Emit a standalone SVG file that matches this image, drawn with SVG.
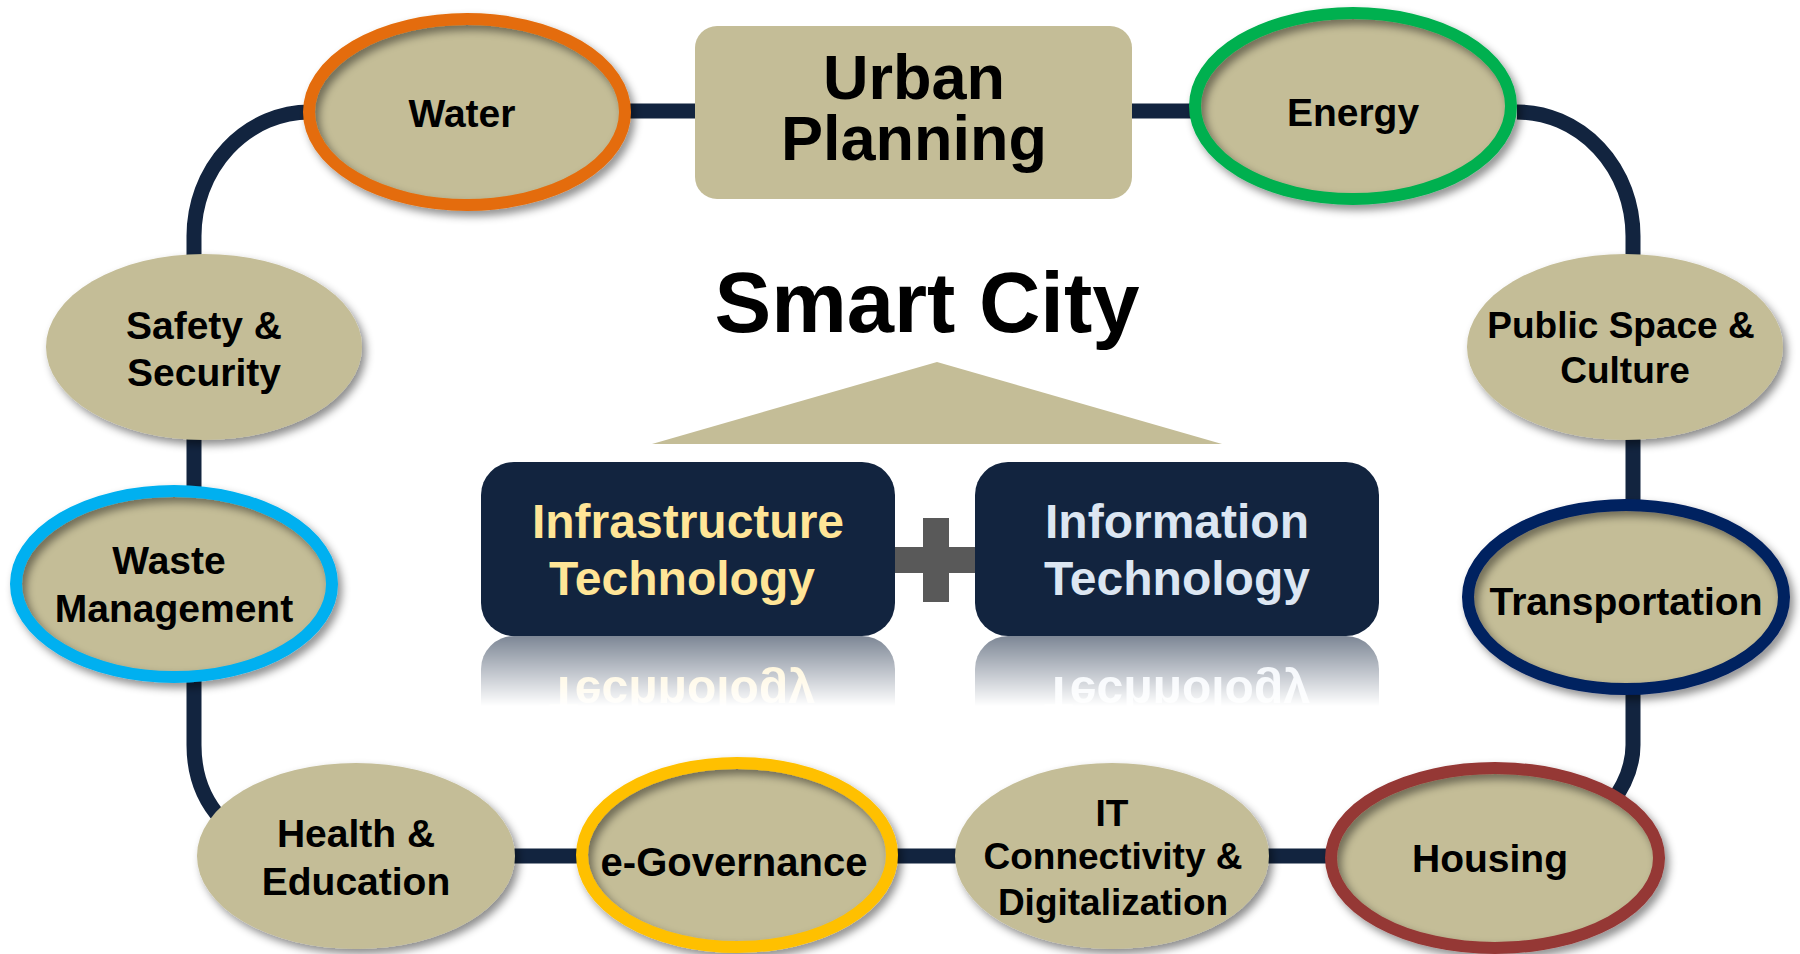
<svg xmlns="http://www.w3.org/2000/svg" width="1800" height="954" viewBox="0 0 1800 954">
<defs>
<style>
.tan{fill:#C4BD97}
.lbl{font-family:"Liberation Sans",Arial,Helvetica,sans-serif;font-weight:bold;fill:#000;text-anchor:middle}
.conn{stroke:#12243F;stroke-width:15;fill:none}
.ring{fill:none;stroke-width:12;filter:url(#sh)}
.plain{fill:#C4BD97;filter:url(#sh)}
.box{fill:#12243F}
</style>
<filter id="sh" x="-20%" y="-25%" width="140%" height="160%">
<feDropShadow dx="4" dy="5" stdDeviation="4" flood-color="#000" flood-opacity="0.45"/>
</filter>
<linearGradient id="rg" x1="0" y1="636" x2="0" y2="706" gradientUnits="userSpaceOnUse">
<stop offset="0" stop-color="#fff" stop-opacity="0.55"/>
<stop offset="1" stop-color="#fff" stop-opacity="0"/>
</linearGradient>
<mask id="rm" maskUnits="userSpaceOnUse" x="0" y="630" width="1800" height="100">
<rect x="0" y="636" width="1800" height="72" fill="url(#rg)"/>
</mask>
</defs>
<rect width="1800" height="954" fill="#fff"/>

<g id="connectors">
<path class="conn" d="M 625 111 H 700"/>
<path class="conn" d="M 1128 111 H 1195"/>
<path class="conn" d="M 310 112 A 116 124 0 0 0 194 236 V 265"/>
<path class="conn" d="M 194 430 V 495"/>
<path class="conn" d="M 194 675 V 745 Q 194 790 222 820"/>
<path class="conn" d="M 505 856 H 590"/>
<path class="conn" d="M 890 856 H 965"/>
<path class="conn" d="M 1260 856 H 1335"/>
<path class="conn" d="M 1610 805 Q 1633 775 1633 745 V 690"/>
<path class="conn" d="M 1633 430 V 505"/>
<path class="conn" d="M 1633 265 V 236 A 116 124 0 0 0 1517 112"/>
</g>

<g id="urban-planning">
<rect class="tan" x="695" y="26" width="437" height="173" rx="22"/>
<text class="lbl" x="914" y="99" font-size="63">Urban</text>
<text class="lbl" x="914" y="160" font-size="63">Planning</text>
</g>

<g id="water">
<ellipse class="tan" cx="467" cy="112" rx="158" ry="93"/>
<ellipse class="ring" cx="467" cy="112" rx="158" ry="93" stroke="#E46C0A"/>
<text class="lbl" x="462" y="127" font-size="39">Water</text>
</g>

<g id="energy">
<ellipse class="tan" cx="1353" cy="106" rx="158" ry="93"/>
<ellipse class="ring" cx="1353" cy="106" rx="158" ry="93" stroke="#00B050"/>
<text class="lbl" x="1353" y="126" font-size="39">Energy</text>
</g>

<g id="safety-security">
<ellipse class="plain" cx="204" cy="347" rx="158" ry="93"/>
<text class="lbl" x="204" y="339" font-size="39">Safety &amp;</text>
<text class="lbl" x="204" y="386" font-size="39">Security</text>
</g>

<g id="public-space-culture">
<ellipse class="plain" cx="1625" cy="347" rx="158" ry="93"/>
<text class="lbl" x="1621" y="338" font-size="37">Public Space &amp;</text>
<text class="lbl" x="1625" y="383" font-size="37">Culture</text>
</g>

<g id="waste-management">
<ellipse class="tan" cx="174" cy="584" rx="158" ry="93"/>
<ellipse class="ring" cx="174" cy="584" rx="158" ry="93" stroke="#00B0F0"/>
<text class="lbl" x="169" y="574" font-size="39">Waste</text>
<text class="lbl" x="174" y="622" font-size="39">Management</text>
</g>

<g id="transportation">
<ellipse class="tan" cx="1626" cy="597" rx="158" ry="92"/>
<ellipse class="ring" cx="1626" cy="597" rx="158" ry="92" stroke="#002060"/>
<text class="lbl" x="1626" y="615" font-size="39">Transportation</text>
</g>

<g id="health-education">
<ellipse class="plain" cx="356" cy="856" rx="159" ry="93"/>
<text class="lbl" x="356" y="847" font-size="39">Health &amp;</text>
<text class="lbl" x="356" y="895" font-size="39">Education</text>
</g>

<g id="e-governance">
<ellipse class="tan" cx="737" cy="855" rx="155" ry="92"/>
<ellipse class="ring" cx="737" cy="855" rx="155" ry="92" stroke="#FFC000"/>
<text class="lbl" x="734" y="876" font-size="40">e-Governance</text>
</g>

<g id="it-connectivity">
<ellipse class="plain" cx="1112" cy="856" rx="157" ry="93"/>
<text class="lbl" x="1112" y="826" font-size="37">IT</text>
<text class="lbl" x="1113" y="869" font-size="37">Connectivity &amp;</text>
<text class="lbl" x="1113" y="915" font-size="37">Digitalization</text>
</g>

<g id="housing">
<ellipse class="tan" cx="1495" cy="858" rx="164" ry="90"/>
<ellipse class="ring" cx="1495" cy="858" rx="164" ry="90" stroke="#953735"/>
<text class="lbl" x="1490" y="872" font-size="39">Housing</text>
</g>

<g id="smart-city">
<text class="lbl" x="927" y="332" font-size="85">Smart City</text>
<polygon class="tan" points="937,362 652,444 1222,444"/>
</g>

<g id="plus">
<rect x="890" y="547" width="90" height="26" fill="#595959"/>
<rect x="923" y="518" width="26" height="84" fill="#595959"/>
</g>

<g id="infrastructure-technology">
<rect class="box" x="481" y="462" width="414" height="174" rx="33"/>
<text class="lbl" x="688" y="538" font-size="48" style="fill:#FFE597">Infrastructure</text>
<text class="lbl" x="682" y="595" font-size="48" style="fill:#FFE597">Technology</text>
<g mask="url(#rm)">
<g transform="matrix(1 0 0 -1 0 1272)">
<rect class="box" x="481" y="462" width="414" height="174" rx="33"/>
<text class="lbl" x="682" y="595" font-size="48" style="fill:#FFE597">Technology</text>
</g>
</g>
</g>

<g id="information-technology">
<rect class="box" x="975" y="462" width="404" height="174" rx="33"/>
<text class="lbl" x="1177" y="538" font-size="48" style="fill:#DCE6F2">Information</text>
<text class="lbl" x="1177" y="595" font-size="48" style="fill:#DCE6F2">Technology</text>
<g mask="url(#rm)">
<g transform="matrix(1 0 0 -1 0 1272)">
<rect class="box" x="975" y="462" width="404" height="174" rx="33"/>
<text class="lbl" x="1177" y="595" font-size="48" style="fill:#DCE6F2">Technology</text>
</g>
</g>
</g>
</svg>
